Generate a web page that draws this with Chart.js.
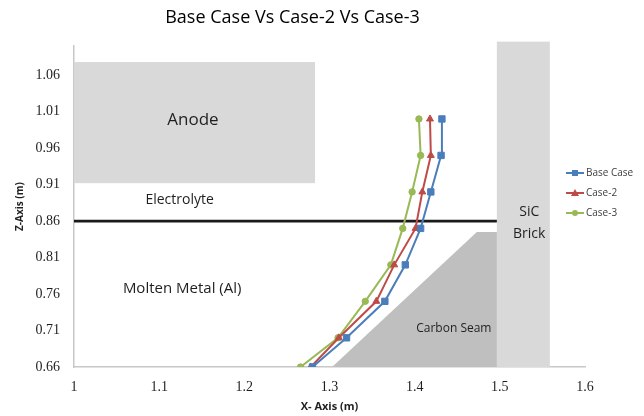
<!DOCTYPE html>
<html lang="en">
<head>
    <meta charset="UTF-8">
    <title>Base Case Vs Case-2 Vs Case-3</title>
    <script src="https://cdn.jsdelivr.net/npm/chart.js"></script>
    <style>
        body { margin: 0; background: #fff; }
        #chart { display: block; }
    </style>
</head>
<body>
    <canvas id="chart" width="644" height="416"></canvas>

    <script>
        // Z positions (m) shared by all three profiles
        const zValues = [0.66, 0.70, 0.75, 0.80, 0.85, 0.90, 0.95, 1.00];
        // X positions (m)
        const baseCase = [1.280, 1.320, 1.365, 1.389, 1.407, 1.419, 1.431, 1.432];
        const case2    = [1.278, 1.311, 1.355, 1.376, 1.401, 1.409, 1.419, 1.418];
        const case3    = [1.266, 1.310, 1.342, 1.372, 1.386, 1.397, 1.407, 1.405];

        const seriesNames = ['Base Case', 'Case-2', 'Case-3'];
        const xTicks = [1, 1.1, 1.2, 1.3, 1.4, 1.5, 1.6];
        const yTicks = [0.66, 0.71, 0.76, 0.81, 0.86, 0.91, 0.96, 1.01, 1.06];

        // cell regions, in axis units
        const anode = { x0: 1.0, x1: 1.283, y0: 0.912, y1: 1.078 };
        const sicBrick = { x0: 1.4965, x1: 1.5587, y0: 0.66, y1: 1.106 };
        const carbonSeam = [[1.303, 0.66], [1.473, 0.845], [1.4965, 0.845], [1.4965, 0.66]];
        const bathLevel = 0.86;

        const labels = [
            { text: 'Anode', x: 1.1397, y: 0.998, size: 17 },
            { text: 'Electrolyte', x: 1.124, y: 0.889, size: 14 },
            { text: 'Molten Metal (Al)', x: 1.127, y: 0.767, size: 15 },
            { text: 'Carbon Seam', x: 1.446, y: 0.713, size: 12 },
            { text: 'SiC', x: 1.5345, y: 0.872, size: 14 },
            { text: 'Brick', x: 1.5345, y: 0.842, size: 14 }
        ];

        const colors = ['#4a7ebb', '#be4b48', '#98b954'];
        const markers = ['rect', 'triangle', 'circle'];

        function toPoints(xs) {
            return xs.map((v, i) => ({ x: v, y: zValues[i] }));
        }

        const cellPlugin = {
            id: 'cell',
            beforeDatasetsDraw(chart) {
                const { ctx, scales: { x, y } } = chart;
                ctx.save();

                ctx.fillStyle = '#d9d9d9';
                ctx.fillRect(x.getPixelForValue(anode.x0), y.getPixelForValue(anode.y1),
                    x.getPixelForValue(anode.x1) - x.getPixelForValue(anode.x0),
                    y.getPixelForValue(anode.y0) - y.getPixelForValue(anode.y1));
                ctx.fillRect(x.getPixelForValue(sicBrick.x0), y.getPixelForValue(sicBrick.y1),
                    x.getPixelForValue(sicBrick.x1) - x.getPixelForValue(sicBrick.x0),
                    y.getPixelForValue(sicBrick.y0) - y.getPixelForValue(sicBrick.y1));

                ctx.fillStyle = '#bfbfbf';
                ctx.beginPath();
                carbonSeam.forEach((p, i) => {
                    const px = x.getPixelForValue(p[0]), py = y.getPixelForValue(p[1]);
                    if (i === 0) ctx.moveTo(px, py); else ctx.lineTo(px, py);
                });
                ctx.closePath();
                ctx.fill();

                // electrolyte / metal interface
                ctx.strokeStyle = '#1a1a1a';
                ctx.lineWidth = 2.6;
                ctx.beginPath();
                ctx.moveTo(x.getPixelForValue(1), y.getPixelForValue(bathLevel));
                ctx.lineTo(x.getPixelForValue(sicBrick.x0), y.getPixelForValue(bathLevel));
                ctx.stroke();

                ctx.fillStyle = '#1f1f1f';
                ctx.textAlign = 'center';
                ctx.textBaseline = 'middle';
                labels.forEach(l => {
                    ctx.font = l.size + 'px "Open Sans"';
                    ctx.fillText(l.text, x.getPixelForValue(l.x), y.getPixelForValue(l.y));
                });
                ctx.restore();
            },
            afterDraw(chart) {
                // legend, sitting over the right edge of the plot like Excel does
                const { ctx } = chart;
                ctx.save();
                ctx.font = '10px "Open Sans"';
                ctx.textBaseline = 'middle';
                ctx.textAlign = 'left';
                seriesNames.forEach((name, i) => {
                    const yy = 173 + i * 20;
                    ctx.strokeStyle = colors[i];
                    ctx.lineWidth = 2;
                    ctx.beginPath();
                    ctx.moveTo(566, yy);
                    ctx.lineTo(584, yy);
                    ctx.stroke();
                    ctx.fillStyle = colors[i];
                    ctx.beginPath();
                    if (markers[i] === 'rect') {
                        ctx.rect(572, yy - 3, 6, 6);
                    } else if (markers[i] === 'triangle') {
                        ctx.moveTo(575, yy - 4);
                        ctx.lineTo(579, yy + 3);
                        ctx.lineTo(571, yy + 3);
                        ctx.closePath();
                    } else {
                        ctx.arc(575, yy, 3, 0, Math.PI * 2);
                    }
                    ctx.fill();
                    ctx.fillStyle = '#404040';
                    ctx.fillText(name, 586, yy);
                });
                ctx.restore();
            }
        };

        const datasets = [baseCase, case2, case3].map((xs, i) => ({
            label: seriesNames[i],
            data: toPoints(xs),
            showLine: true,
            borderColor: colors[i],
            backgroundColor: colors[i],
            borderWidth: 2,
            pointStyle: markers[i],
            pointRadius: [4.5, 4, 3.2][i],
            pointBorderWidth: 1,
            tension: 0
        }));

        new Chart(document.getElementById('chart'), {
            type: 'scatter',
            data: { datasets },
            plugins: [cellPlugin],
            options: {
                responsive: false,
                devicePixelRatio: 1,
                animation: false,
                layout: { padding: { left: 0, right: 59, top: 0, bottom: 0 } },
                plugins: {
                    legend: { display: false },
                    tooltip: { enabled: false },
                    title: {
                        display: true,
                        text: 'Base Case Vs Case-2 Vs Case-3',
                        color: '#000',
                        font: { family: 'Open Sans', size: 18, weight: 'normal' },
                        padding: { top: 7, bottom: 17.4 }
                    }
                },
                scales: {
                    x: {
                        type: 'linear',
                        min: 1,
                        max: 1.6,
                        grid: { display: false, drawTicks: false },
                        border: { display: true, color: '#c8c8c8', width: 1.5 },
                        afterBuildTicks: s => { s.ticks = xTicks.map(v => ({ value: v })); },
                        afterFit: s => { s.height = 49; s.paddingLeft = 0; s.paddingRight = 0; },
                        ticks: {
                            padding: 12,
                            color: '#1f1f1f',
                            font: { family: 'Liberation Serif', size: 14 },
                            callback: v => String(Number(v.toFixed(1)))
                        },
                        title: {
                            display: true,
                            text: 'X- Axis (m)',
                            color: '#1f1f1f',
                            font: { family: 'Open Sans', size: 11, weight: 'bold' },
                            padding: { top: 0, bottom: 2.5 }
                        }
                    },
                    y: {
                        type: 'linear',
                        min: 0.66,
                        max: 1.10,
                        grid: { display: false, drawTicks: false },
                        border: { display: true, color: '#c8c8c8', width: 1.5 },
                        afterBuildTicks: s => { s.ticks = yTicks.map(v => ({ value: v })); },
                        afterFit: s => { s.width = 74; s.paddingTop = 0; s.paddingBottom = 0; },
                        ticks: {
                            padding: 14,
                            color: '#1f1f1f',
                            font: { family: 'Liberation Serif', size: 14 },
                            callback: v => v.toFixed(2)
                        },
                        title: {
                            display: true,
                            text: 'Z-Axis (m)',
                            color: '#1f1f1f',
                            font: { family: 'Open Sans', size: 10, weight: 'bold' },
                            padding: { top: 14, bottom: 0 }
                        }
                    }
                }
            }
        });
    </script>
</body>
</html>
